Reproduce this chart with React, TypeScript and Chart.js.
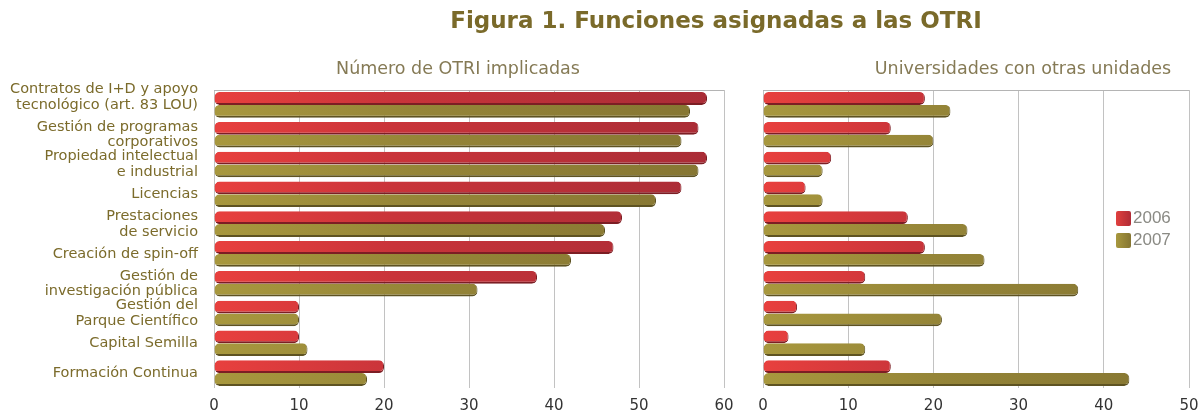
import React, { useEffect, useRef } from "react";
import { Chart, registerables } from "chart.js";

Chart.register(...registerables);

const chartTitle = "Figura 1. Funciones asignadas a las OTRI";
const leftSubtitle = "Número de OTRI implicadas";
const rightSubtitle = "Universidades con otras unidades";

const categories: (string | string[])[] = [
  ["Contratos de I+D y apoyo", "tecnológico (art. 83 LOU)", ""],
  ["Gestión de programas", "corporativos"],
  ["Propiedad intelectual", "e industrial"],
  "Licencias",
  ["Prestaciones", "de servicio"],
  "Creación de spin-off",
  ["Gestión de", "investigación pública"],
  ["Gestión del", "Parque Científico"],
  "Capital Semilla",
  "Formación Continua",
];

const seriesNames = ["2006", "2007"];

const otri2006 = [58, 57, 58, 55, 48, 47, 38, 10, 10, 20];
const otri2007 = [56, 55, 57, 52, 46, 42, 31, 10, 11, 18];

const otras2006 = [19, 15, 8, 5, 17, 19, 12, 4, 3, 15];
const otras2007 = [22, 20, 7, 7, 24, 26, 37, 21, 12, 43];

const leftMax = 60;
const rightMax = 50;
const tickStep = 10;

const FONT = "'DejaVu Sans', Verdana, sans-serif";

function redGradient(ctx: any) {
  const chart = ctx.chart;
  const area = chart.chartArea;
  if (!area) return "#c83238";
  const g = chart.ctx.createLinearGradient(area.left, 0, area.right, 0);
  g.addColorStop(0, "#e8403e");
  g.addColorStop(0.35, "#c9343a");
  g.addColorStop(1, "#a82c36");
  return g;
}

function oliveGradient(ctx: any) {
  const chart = ctx.chart;
  const area = chart.chartArea;
  if (!area) return "#948437";
  const g = chart.ctx.createLinearGradient(area.left, 0, area.right, 0);
  g.addColorStop(0, "#a8983e");
  g.addColorStop(0.4, "#958538");
  g.addColorStop(1, "#857532");
  return g;
}

const topLine = {
  id: "topLine",
  beforeDatasetsDraw(chart: any) {
    const { ctx, chartArea } = chart;
    ctx.save();
    ctx.strokeStyle = "#b4b4b4";
    ctx.lineWidth = 1;
    ctx.beginPath();
    ctx.moveTo(chartArea.left, chartArea.top + 0.5);
    ctx.lineTo(chartArea.right, chartArea.top + 0.5);
    ctx.stroke();
    ctx.restore();
  },
};

function makeConfig(d2006: number[], d2007: number[], max: number, showY: boolean, padding: any): any {
  const barCommon = {
    borderRadius: 5,
    borderSkipped: false,
    categoryPercentage: 0.86,
    barPercentage: 1,
  };
  return {
    type: "bar",
    data: {
      labels: categories,
      datasets: [
        {
          label: seriesNames[0],
          data: d2006,
          backgroundColor: redGradient,
          borderColor: "#7c1e24",
          borderWidth: { top: 0, left: 0, right: 1, bottom: 2 },
          ...barCommon,
        },
        {
          label: seriesNames[1],
          data: d2007,
          backgroundColor: oliveGradient,
          borderColor: "#5e5322",
          borderWidth: { top: 0, left: 0, right: 1, bottom: 2 },
          ...barCommon,
        },
      ],
    },
    options: {
      indexAxis: "y",
      animation: false,
      responsive: false,
      maintainAspectRatio: false,
      layout: { padding },
      plugins: {
        legend: { display: false },
        title: { display: false },
        tooltip: { enabled: false },
      },
      scales: {
        x: {
          min: 0,
          max,
          ticks: {
            stepSize: tickStep,
            color: "#333333",
            font: { family: FONT, size: 15 },
            padding: 9,
          },
          grid: { color: "#c2c2c2", lineWidth: 1, drawTicks: false },
          border: { display: false },
          afterFit: (s: any) => {
            s.height = 24;
            s.paddingLeft = 0;
            s.paddingRight = 0;
          },
        },
        y: {
          display: showY,
          offset: true,
          ticks: {
            color: "#7b6b2b",
            font: { family: FONT, size: 14.5, lineHeight: 1.08 },
            padding: 8,
            autoSkip: false,
          },
          grid: { display: false },
          border: { display: false },
          afterFit: (s: any) => {
            s.width = showY ? 214 : 0;
            s.paddingTop = 0;
            s.paddingBottom = 0;
          },
        },
      },
    },
    plugins: [topLine],
  };
}

function BarPanel(props: { d2006: number[]; d2007: number[]; max: number; showY: boolean; padding: any; width: number; height: number }) {
  const ref = useRef<HTMLCanvasElement | null>(null);
  useEffect(() => {
    if (!ref.current) return;
    const chart = new Chart(ref.current, makeConfig(props.d2006, props.d2007, props.max, props.showY, props.padding));
    return () => chart.destroy();
  }, []);
  return <canvas ref={ref} width={props.width} height={props.height} style={{ display: "block" }} />;
}

export default function App() {
  useEffect(() => {
    document.body.style.margin = "0";
  }, []);
  const abs = (left: number, top: number): React.CSSProperties => ({ position: "absolute", left, top });
  return (
    <div style={{ position: "absolute", left: 0, top: 0, width: 1202, height: 412, background: "#ffffff", overflow: "hidden" }}>
      <div style={{ ...abs(0, 0) }}>
        <BarPanel d2006={otri2006} d2007={otri2007} max={leftMax} showY={true} padding={{ top: 90, right: 16, left: 0, bottom: 0 }} width={740} height={412} />
      </div>
      <div style={{ ...abs(740, 0) }}>
        <BarPanel d2006={otras2006} d2007={otras2007} max={rightMax} showY={false} padding={{ top: 90, right: 13, left: 23, bottom: 0 }} width={462} height={412} />
      </div>
      <div
        style={{
          ...abs(716, 5),
          transform: "translateX(-50%)",
          whiteSpace: "nowrap",
          fontFamily: FONT,
          fontWeight: "bold",
          fontSize: 23,
          color: "#7a6a2a",
          lineHeight: "30px",
        }}
      >
        {chartTitle}
      </div>
      <div
        style={{
          ...abs(458, 55),
          transform: "translateX(-50%)",
          whiteSpace: "nowrap",
          fontFamily: FONT,
          fontSize: 17.5,
          color: "#857a55",
          lineHeight: "26px",
        }}
      >
        {leftSubtitle}
      </div>
      <div
        style={{
          ...abs(1023, 55),
          transform: "translateX(-50%)",
          whiteSpace: "nowrap",
          fontFamily: FONT,
          fontSize: 17.5,
          color: "#857a55",
          lineHeight: "26px",
        }}
      >
        {rightSubtitle}
      </div>
      {seriesNames.map((name, i) => (
        <div key={name} style={{ ...abs(1116, 209 + i * 22), display: "flex", alignItems: "center", height: 18 }}>
          <div
            style={{
              width: 15,
              height: 15,
              borderRadius: 2,
              background: i === 0 ? "linear-gradient(90deg,#e0403e,#b02c36)" : "linear-gradient(90deg,#a8983e,#857532)",
              marginRight: 2,
            }}
          />
          <span style={{ fontFamily: "'Liberation Sans', Arial, sans-serif", fontSize: 17, color: "#8a8a84" }}>{name}</span>
        </div>
      ))}
    </div>
  );
}
